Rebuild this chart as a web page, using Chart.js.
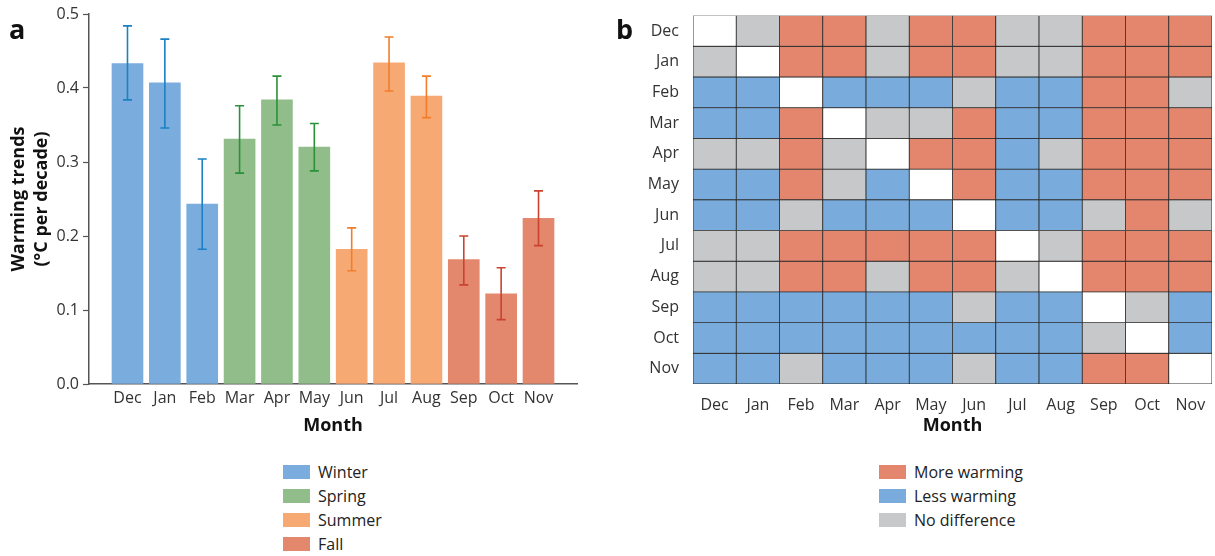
<!DOCTYPE html>
<html lang="en">
<head>
    <meta charset="UTF-8">
    <title>Warming trends by month</title>
    <script src="https://cdn.jsdelivr.net/npm/chart.js@4"></script>
    <style>
        body {
            margin: 0;
            background: #fff;
            font-family: "Open Sans", Arial, sans-serif;
            color: #222;
        }
        #wrap {
            position: relative;
            width: 1215px;
            height: 556px;
            overflow: hidden;
        }
        canvas {
            position: absolute;
            top: 0;
        }
        #barChart { left: 0; }
        #gridChart { left: 600px; }
        .panel {
            position: absolute;
            font-weight: bold;
            font-size: 27px;
            color: #111;
            line-height: 1;
        }
        .legend {
            position: absolute;
            font-size: 16px;
            color: #222;
        }
        .legend div {
            height: 24px;
            line-height: 24px;
            white-space: nowrap;
        }
        .legend span {
            display: inline-block;
            width: 27px;
            height: 14px;
            margin-right: 8px;
            vertical-align: -1px;
        }
    </style>
</head>
<body>
<div id="wrap">
    <canvas id="barChart" width="600" height="440"></canvas>
    <canvas id="gridChart" width="615" height="440"></canvas>
    <div class="panel" style="left:9px; top:15px;">a</div>
    <div class="panel" style="left:616px; top:15px;">b</div>
    <div class="legend" id="seasonLegend" style="left:283px; top:460px;"></div>
    <div class="legend" id="compareLegend" style="left:879px; top:460px;"></div>
</div>

<script>
    // panel a data
    const months = ['Dec', 'Jan', 'Feb', 'Mar', 'Apr', 'May', 'Jun', 'Jul', 'Aug', 'Sep', 'Oct', 'Nov'];
    const trends = [0.433, 0.407, 0.243, 0.331, 0.384, 0.320, 0.182, 0.434, 0.389, 0.168, 0.122, 0.224];
    const errLow = [0.384, 0.346, 0.182, 0.285, 0.350, 0.288, 0.153, 0.396, 0.360, 0.134, 0.087, 0.187];
    const errHigh = [0.484, 0.466, 0.304, 0.376, 0.416, 0.352, 0.211, 0.469, 0.416, 0.200, 0.157, 0.261];
    const seasons = ['Winter', 'Spring', 'Summer', 'Fall'];
    const monthSeason = [0, 0, 0, 1, 1, 1, 2, 2, 2, 3, 3, 3];
    const yTicks = [0, 0.1, 0.2, 0.3, 0.4, 0.5];

    // panel b data: row month vs column month
    // M = more warming, L = less warming, N = no difference, - = same month
    const compareKeys = ['M', 'L', 'N'];
    const compareLabels = ['More warming', 'Less warming', 'No difference'];
    const comparison = [
        ['-', 'N', 'M', 'M', 'N', 'M', 'M', 'N', 'N', 'M', 'M', 'M'],
        ['N', '-', 'M', 'M', 'N', 'M', 'M', 'N', 'N', 'M', 'M', 'M'],
        ['L', 'L', '-', 'L', 'L', 'L', 'N', 'L', 'L', 'M', 'M', 'N'],
        ['L', 'L', 'M', '-', 'N', 'N', 'M', 'L', 'L', 'M', 'M', 'M'],
        ['N', 'N', 'M', 'N', '-', 'M', 'M', 'L', 'N', 'M', 'M', 'M'],
        ['L', 'L', 'M', 'N', 'L', '-', 'M', 'L', 'L', 'M', 'M', 'M'],
        ['L', 'L', 'N', 'L', 'L', 'L', '-', 'L', 'L', 'N', 'M', 'N'],
        ['N', 'N', 'M', 'M', 'M', 'M', 'M', '-', 'N', 'M', 'M', 'M'],
        ['N', 'N', 'M', 'M', 'N', 'M', 'M', 'N', '-', 'M', 'M', 'M'],
        ['L', 'L', 'L', 'L', 'L', 'L', 'N', 'L', 'L', '-', 'N', 'L'],
        ['L', 'L', 'L', 'L', 'L', 'L', 'L', 'L', 'L', 'N', '-', 'L'],
        ['L', 'L', 'N', 'L', 'L', 'L', 'N', 'L', 'L', 'M', 'M', '-']
    ];

    const seasonColors = ['#7aaddd', '#91bd8b', '#f7a974', '#e3876d'];
    const errColors = ['#1b80c4', '#2a9139', '#f27d2b', '#c9432f'];
    const cellColors = { M: '#e3866d', L: '#79acdc', N: '#c7c8ca', '-': '#ffffff' };

    const tickFont = { family: '"Open Sans", Arial, sans-serif', size: 16 };
    const titleFont = { family: '"Open Sans", Arial, sans-serif', size: 18, weight: 'bold' };

    Chart.defaults.color = '#333';

    // error bars drawn over the bars
    const errorBars = {
        id: 'errorBars',
        afterDatasetsDraw(chart) {
            const ctx = chart.ctx;
            const xs = chart.scales.x, ys = chart.scales.y;
            ctx.save();
            ctx.lineWidth = 1.6;
            for (let i = 0; i < months.length; i++) {
                const x = xs.getPixelForValue(i);
                const y1 = ys.getPixelForValue(errLow[i]);
                const y2 = ys.getPixelForValue(errHigh[i]);
                ctx.strokeStyle = errColors[monthSeason[i]];
                ctx.beginPath();
                ctx.moveTo(x, y1); ctx.lineTo(x, y2);
                ctx.moveTo(x - 4.5, y1); ctx.lineTo(x + 4.5, y1);
                ctx.moveTo(x - 4.5, y2); ctx.lineTo(x + 4.5, y2);
                ctx.stroke();
            }
            ctx.restore();
        }
    };

    new Chart(document.getElementById('barChart'), {
        type: 'bar',
        data: {
            datasets: [{
                data: trends.map((v, i) => ({ x: i, y: v })),
                backgroundColor: monthSeason.map(s => seasonColors[s]),
                barThickness: 31
            }]
        },
        options: {
            responsive: false,
            animation: false,
            layout: { padding: { top: 14, right: 23, left: 0, bottom: 0 } },
            plugins: { legend: { display: false }, tooltip: { enabled: false } },
            scales: {
                x: {
                    type: 'linear',
                    offset: false,
                    min: -1.03,
                    max: 12.03,
                    afterBuildTicks: s => { s.ticks = months.map((m, i) => ({ value: i })); },
                    afterFit: s => { s.height = 56; },
                    ticks: { font: tickFont, color: '#333', padding: 5, maxRotation: 0, autoSkip: false, callback: v => months[v] },
                    grid: { drawOnChartArea: false, drawTicks: false },
                    border: { color: '#555', width: 1.5 },
                    title: { display: true, text: 'Month', font: titleFont, color: '#111', padding: { top: 0, bottom: 3 } }
                },
                y: {
                    min: 0,
                    max: 0.5,
                    afterBuildTicks: s => { s.ticks = yTicks.map(v => ({ value: v })); },
                    afterFit: s => { s.width = 89; },
                    ticks: { font: tickFont, color: '#333', padding: 4, callback: v => v.toFixed(1) },
                    grid: { drawOnChartArea: false, tickLength: 6, color: '#555', tickWidth: 1.2 },
                    border: { color: '#555', width: 1.5 },
                    title: {
                        display: true,
                        text: ['Warming trends', '(°C per decade)'],
                        font: { family: '"Open Sans", Arial, sans-serif', size: 18, weight: 'bold', lineHeight: 1.25 },
                        color: '#111',
                        padding: { top: 8, bottom: 0 }
                    }
                }
            }
        },
        plugins: [errorBars]
    });

    // heatmap as floating bars, one dataset per row month
    const rowSets = comparison.map((row, r) => ({
        label: months[r],
        data: row.map(() => [r - 0.5, r + 0.5]),
        backgroundColor: row.map(k => cellColors[k]),
        borderColor: '#2b2b2b',
        borderWidth: 0.8,
        borderSkipped: false,
        barPercentage: 1,
        categoryPercentage: 1
    }));

    new Chart(document.getElementById('gridChart'), {
        type: 'bar',
        data: { labels: months, datasets: rowSets },
        options: {
            responsive: false,
            animation: false,
            grouped: false,
            layout: { padding: { top: 13, right: 3, left: 0, bottom: 0 } },
            plugins: { legend: { display: false }, tooltip: { enabled: false } },
            scales: {
                x: {
                    afterFit: s => { s.height = 56; },
                    ticks: { font: tickFont, color: '#333', padding: 4, maxRotation: 0, autoSkip: false },
                    grid: { display: false },
                    border: { display: false },
                    title: { display: true, text: 'Month', font: titleFont, color: '#111', padding: { top: 0, bottom: 3 } }
                },
                y: {
                    reverse: true,
                    min: -0.5,
                    max: 11.5,
                    afterBuildTicks: s => { s.ticks = months.map((m, i) => ({ value: i })); },
                    afterFit: s => { s.width = 93; },
                    ticks: { font: tickFont, color: '#333', padding: 6, callback: v => months[v] },
                    grid: { display: false },
                    border: { display: false }
                }
            }
        }
    });

    // legends
    document.getElementById('seasonLegend').innerHTML = seasons
        .map((s, i) => `<div><span style="background:${seasonColors[i]}"></span>${s}</div>`).join('');
    document.getElementById('compareLegend').innerHTML = compareKeys
        .map((k, i) => `<div><span style="background:${cellColors[k]}"></span>${compareLabels[i]}</div>`).join('');
</script>
</body>
</html>
